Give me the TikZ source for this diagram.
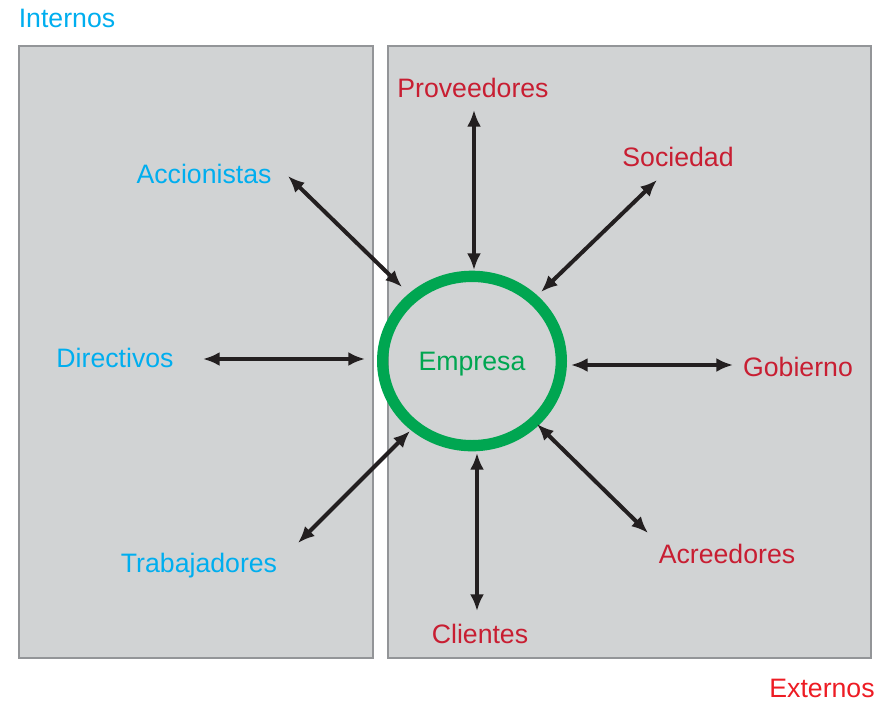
\documentclass[tikz,border=0pt]{standalone}
\usepackage{fontspec}
\setmainfont{Liberation Sans}
\usetikzlibrary{arrows.meta}
\usetikzlibrary{shapes.geometric}
\definecolor{panelgray}{RGB}{209,211,212}
\definecolor{panelline}{RGB}{147,149,152}
\definecolor{intblue}{RGB}{0,174,239}
\definecolor{extred}{RGB}{200,30,50}
\definecolor{titlered}{RGB}{237,28,36}
\definecolor{empgreen}{RGB}{0,166,81}
\definecolor{arrowcol}{RGB}{35,31,32}
\tikzset{
  panel/.style={fill=panelgray,draw=panelline,line width=1.1pt},
  lbl/.style={font=\fontsize{20}{24}\selectfont,inner sep=0pt},
  interno/.style={lbl,text=intblue},
  externo/.style={lbl,text=extred},
  link/.style={arrowcol,line width=3pt,
               {Latex[length=12.5pt,width=10.5pt]}-{Latex[length=12.5pt,width=10.5pt]}}
}

\begin{document}
\begin{tikzpicture}[x=0.75pt,y=-0.75pt]
  \useasboundingbox (0,0) rectangle (892,701);

  % PANELS
  \draw[panel] (19,46) rectangle (373,658);
  \draw[panel] (388,46) rectangle (871,658);
  \node[lbl,text=intblue] (internos) at (67,18) {Internos};
  \node[lbl,text=titlered] (externos) at (822,688) {Externos};

  % EMPRESA
  \node[ellipse,draw=empgreen,line width=8.5pt,minimum width=134pt,
        minimum height=127pt,inner sep=0pt,lbl,text=empgreen] (emp) at (472,361) {};
  \node[lbl,text=empgreen] (emptxt) at (472,364) {Empresa};

  % GRUPOS
  \node[interno] (acc) at (204,174) {Accionistas};
  \node[interno] (dir) at (115,358) {Directivos};
  \node[interno] (tra) at (199,566) {Trabajadores};
  \node[externo] (pro) at (473,88) {Proveedores};
  \node[externo] (soc) at (678,157) {Sociedad};
  \node[externo] (gob) at (798,367) {Gobierno};
  \node[externo] (acr) at (727,554) {Acreedores};
  \node[externo] (cli) at (480,634) {Clientes};

  % EXTREMOS
  \coordinate (acc-a) at (288,176);  \coordinate (acc-b) at (402,287);
  \coordinate (pro-a) at (474,110);  \coordinate (pro-b) at (474,270);
  \coordinate (soc-a) at (657,180);  \coordinate (soc-b) at (541,292);
  \coordinate (dir-a) at (203,359);  \coordinate (dir-b) at (365,359);
  \coordinate (gob-a) at (733,365);  \coordinate (gob-b) at (571,365);
  \coordinate (tra-a) at (298,543);  \coordinate (tra-b) at (410,431);
  \coordinate (cli-a) at (477,611);  \coordinate (cli-b) at (477,453);
  \coordinate (acr-a) at (648,533);  \coordinate (acr-b) at (537,424);

  % FLECHAS
  \foreach \g in {acc,pro,soc,dir,gob,tra,cli,acr}
    \draw[link] (\g-a) -- (\g-b);

\end{tikzpicture}
\end{document}
